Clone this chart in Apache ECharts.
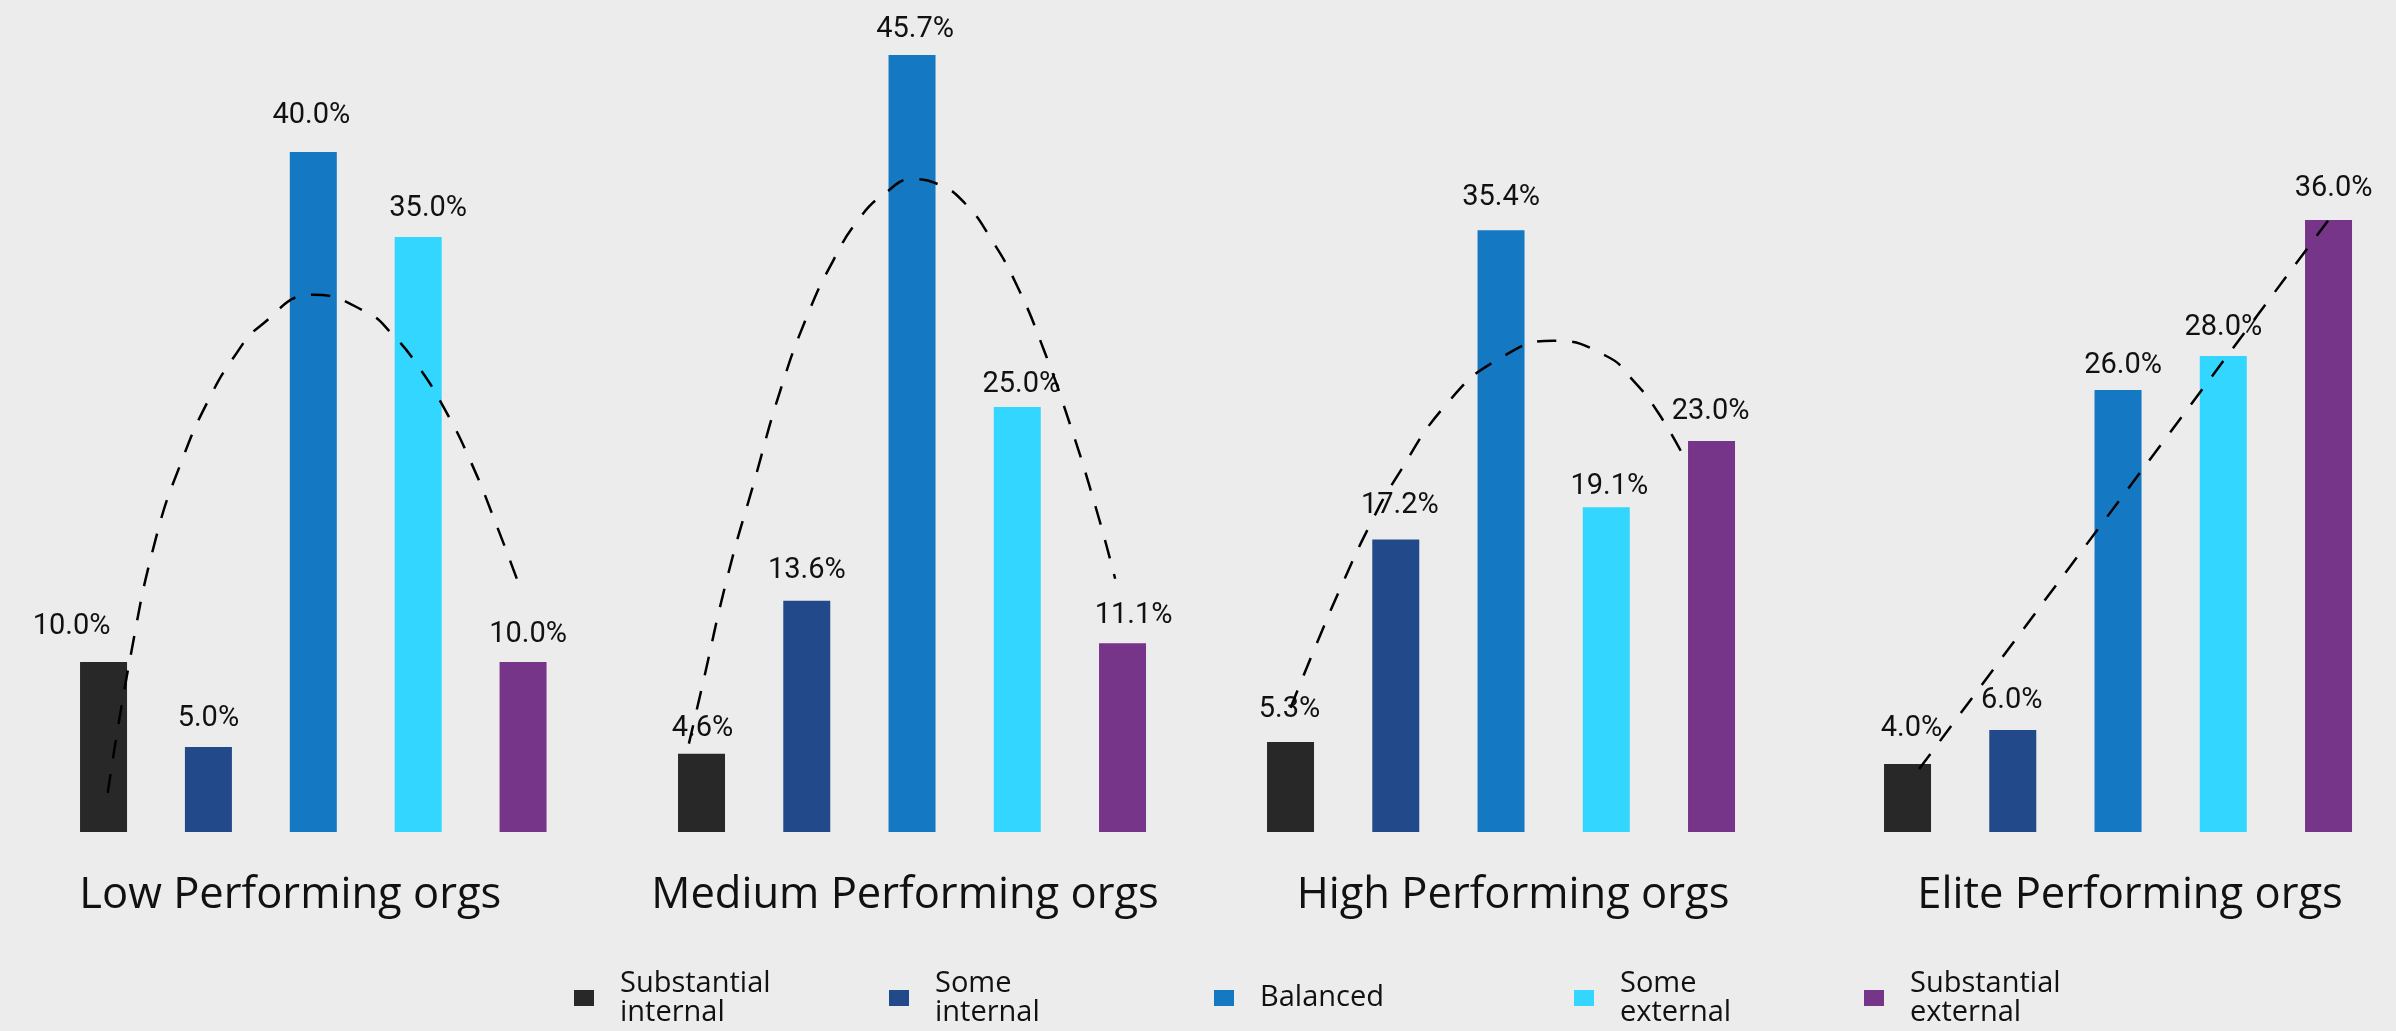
<!DOCTYPE html>
<html>
<head>
<meta charset="utf-8">
<script src="https://cdn.jsdelivr.net/npm/echarts@6/dist/echarts.min.js"></script>
<style>
  html, body { margin: 0; padding: 0; background: #ececec; }
  #chart { width: 2396px; height: 1031px; }
</style>
</head>
<body>
<div id="chart"></div>
<script>
// Performance tiers and the sourcing mix within each tier
const groups = ['Low Performing orgs', 'Medium Performing orgs', 'High Performing orgs', 'Elite Performing orgs'];
const mixes = ['Substantial internal', 'Some internal', 'Balanced', 'Some external', 'Substantial external'];

// Share of organisations (%) per mix, one array per tier
const lowValues = [10.0, 5.0, 40.0, 35.0, 10.0];
const mediumValues = [4.6, 13.6, 45.7, 25.0, 11.1];
const highValues = [5.3, 17.2, 35.4, 19.1, 23.0];
const eliteValues = [4.0, 6.0, 26.0, 28.0, 36.0];

// Trend curves per tier: [position along the five mixes (0..4), %]
const lowTrend = [[0.04, 2.3], [0.25, 10.1], [0.5, 17.3], [0.75, 21.9], [1, 25.4], [1.25, 28.0], [1.5, 29.8],
  [2, 31.6], [2.5, 30.6], [2.75, 29.3], [3, 27.4], [3.25, 24.9], [3.5, 21.8], [3.75, 18.0], [3.97, 14.4]];
const mediumTrend = [[-0.12, 5.2], [0, 8.4], [0.25, 15.1], [0.5, 20.6], [0.75, 26.0], [1, 30.3], [1.25, 33.6],
  [1.5, 36.1], [1.75, 37.6], [2, 38.4], [2.25, 38.1], [2.5, 37.0], [2.75, 34.9], [3, 32.1], [3.25, 28.4],
  [3.5, 24.0], [3.75, 19.0], [3.93, 14.9]];
const highTrend = [[0, 7.3], [0.25, 11.1], [0.5, 14.7], [0.75, 18.0], [1, 20.8], [1.5, 25.3], [2, 27.9],
  [2.5, 28.9], [3, 28.0], [3.25, 26.6], [3.5, 24.6], [3.76, 21.8]];
const eliteTrend = [[0.11, 3.7], [1, 11.1], [2, 19.4], [3, 27.7], [4, 36.0]];

const groupValues = [lowValues, mediumValues, highValues, eliteValues];
const groupTrends = [lowTrend, mediumTrend, highTrend, eliteTrend];

// ---- styling ----
const colors = ['#282828', '#224a8a', '#1578c2', '#33d6ff', '#773589'];
const bg = '#ececec';
const ink = '#111111';
const gridLefts = [51.1, 648.9, 1237.9, 1854.9];
const gridWidths = [524.4, 526.25, 526.25, 526.25];
const nameShift = [-23, -7, 12, 12];
// per-label nudges [dx, dy] so value labels sit where the layout puts them
const labelNudge = [
  [[-32, -6], [0, 1], [-2, -7], [10, 1], [5, 2]],
  [[1, 4], [0, -1], [3, 4], [4, 7], [11, 2]],
  [[-1, -3], [4, -4], [0, -3], [3, 9], [-1, 0]],
  [[4, -6], [-1, 0], [5, 5], [0, 1], [5, -2]]
];
const legendLefts = [574, 889, 1214, 1574, 1864];

const grid = [], xAxis = [], yAxis = [], series = [];

groups.forEach((g, gi) => {
  grid.push({ left: gridLefts[gi], width: gridWidths[gi], top: 16, bottom: 199 });
  const shift = nameShift[gi];
  xAxis.push({
    type: 'category', gridIndex: gi, data: mixes,
    axisLine: { show: false }, axisTick: { show: false }, axisLabel: { show: false },
    splitLine: { show: false },
    name: g, nameLocation: 'middle', nameGap: 64,
    nameTextStyle: {
      fontFamily: 'Open Sans', fontSize: 43.5, color: ink, verticalAlign: 'middle',
      padding: [0, shift < 0 ? -2 * shift : 0, 0, shift > 0 ? 2 * shift : 0]
    }
  });
  xAxis.push({ type: 'value', gridIndex: gi, min: -0.5, max: 4.5, show: false });
  yAxis.push({ type: 'value', gridIndex: gi, min: 0, max: 48, show: false });

  mixes.forEach((m, mi) => {
    series.push({
      type: 'bar', name: m,
      xAxisIndex: gi * 2, yAxisIndex: gi,
      barWidth: 47, barGap: '-100%',
      itemStyle: { color: colors[mi] },
      label: {
        show: true, position: 'top', distance: 15,
        offset: labelNudge[gi][mi],
        fontFamily: 'Roboto', fontSize: 29, color: ink,
        formatter: p => Number(p.value).toFixed(1) + '%'
      },
      data: groupValues[gi].map((v, i) => (i === mi ? v : '-')),
      z: 2
    });
  });

  series.push({
    type: 'line', name: 'trend-' + gi,
    xAxisIndex: gi * 2 + 1, yAxisIndex: gi,
    data: groupTrends[gi], smooth: true, symbol: 'none', silent: true,
    lineStyle: { color: '#000000', width: 2.5, type: [19, 16] },
    z: 5
  });
});

// one legend per entry so each sits at its own spot along the bottom row
const legend = mixes.map((m, i) => {
  const twoLine = m.indexOf(' ') >= 0;
  return {
    data: [m], left: legendLefts[i], top: twoLine ? 968.5 : 980.25,
    padding: 0, icon: 'rect', itemWidth: 20, itemHeight: 16, selectedMode: false,
    formatter: name => name.replace(' ', '\n'),
    textStyle: {
      fontFamily: 'Open Sans', fontSize: 29, lineHeight: 29.5, color: ink,
      padding: [twoLine ? 0 : 6, 0, 0, 21]
    }
  };
});

const chart = echarts.init(document.getElementById('chart'), null, { renderer: 'canvas' });
chart.setOption({
  backgroundColor: bg,
  animation: false,
  grid, xAxis, yAxis, series, legend
});
</script>
</body>
</html>
